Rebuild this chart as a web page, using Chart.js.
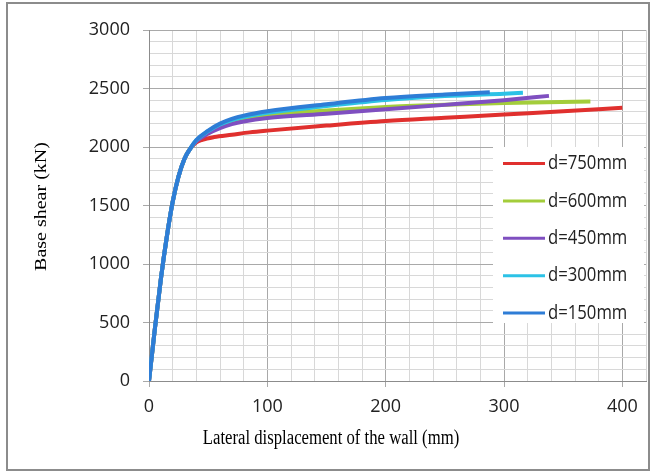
<!DOCTYPE html>
<html>
<head>
<meta charset="utf-8">
<script src="https://cdn.jsdelivr.net/npm/chart.js@4"></script>
<style>
  html, body { margin: 0; padding: 0; background: #fff; }
  canvas { display: block; }
</style>
</head>
<body>
<canvas id="pushover" width="651" height="473"></canvas>
<script>
// pushover curves: base shear vs lateral wall displacement
const seriesNames = ['d=750mm', 'd=600mm', 'd=450mm', 'd=300mm', 'd=150mm'];
const seriesColors = ['#e0302e', '#a3cd3b', '#7f4fc0', '#2cc2e6', '#2e7dd6'];

// elastic branch shared by all walls
const dispElastic = [0, 5, 10, 15, 20, 25, 30, 35];
const shearElastic = [0, 450, 870, 1230, 1530, 1750, 1900, 1988];

const disp750 = [40, 45, 55, 70, 85, 100, 150, 200, 250, 300, 350, 400];
const shear750 = [2040, 2062, 2085, 2105, 2125, 2140, 2183, 2222, 2250, 2278, 2305, 2335];

const disp600 = [40, 50, 60, 70, 80, 100, 150, 200, 250, 300, 373];
const shear600 = [2052, 2125, 2175, 2215, 2240, 2275, 2312, 2342, 2361, 2376, 2388];

const disp450 = [40, 50, 60, 70, 80, 100, 150, 200, 250, 300, 338];
const shear450 = [2048, 2115, 2162, 2195, 2218, 2248, 2285, 2322, 2360, 2400, 2437];

const disp300 = [40, 50, 60, 70, 80, 100, 150, 200, 250, 300, 316];
const shear300 = [2058, 2135, 2192, 2230, 2256, 2292, 2350, 2402, 2435, 2456, 2463];

const disp150 = [40, 50, 60, 70, 80, 100, 150, 200, 250, 288];
const shear150 = [2060, 2140, 2200, 2240, 2268, 2305, 2365, 2418, 2448, 2467];

const yTicks = [0, 500, 1000, 1500, 2000, 2500, 3000];
const xTicks = [0, 100, 200, 300, 400];

function toPoints(xs, ys) {
  const xAll = dispElastic.concat(xs);
  const yAll = shearElastic.concat(ys);
  return xAll.map((x, i) => ({x: x, y: yAll[i]}));
}

const curves = [
  toPoints(disp750, shear750),
  toPoints(disp600, shear600),
  toPoints(disp450, shear450),
  toPoints(disp300, shear300),
  toPoints(disp150, shear150)
];

const majorGrid = '#a9a9a9';
const minorGrid = '#d8d8d8';
const squeeze = 0.835; // text in this figure is set a little narrow

// frame, axis titles and the boxed legend
const decorPlugin = {
  id: 'decor',
  beforeDraw(chart) {
    const c = chart.ctx;
    c.save();
    c.fillStyle = '#fff';
    c.fillRect(0, 0, chart.width, chart.height);
    c.restore();
  },
  afterDraw(chart) {
    const c = chart.ctx;
    const area = chart.chartArea;
    c.save();
    c.strokeStyle = '#8c8c8c';
    c.lineWidth = 2;
    c.strokeRect(7, 3, 642, 467);

    c.fillStyle = '#000';
    c.font = '20px "Liberation Serif", "Times New Roman", serif';
    c.textAlign = 'center';
    c.textBaseline = 'middle';
    c.save();
    c.translate(331, 439);
    c.scale(squeeze, 1);
    c.fillText('Lateral displacement of the wall (mm)', 0, 0);
    c.restore();

    c.translate(42, (area.top + area.bottom) / 2 + 1);
    c.rotate(-Math.PI / 2);
    c.scale(1, squeeze);
    c.fillText('Base shear (kN)', 0, 0);
    c.restore();

    // legend
    c.save();
    c.fillStyle = '#fff';
    c.fillRect(493, 147, 151, 176);
    c.font = '20px "Open Sans", sans-serif';
    c.textAlign = 'left';
    c.textBaseline = 'middle';
    chart.data.datasets.forEach((ds, i) => {
      const y = 163.5 + i * 37.4;
      c.strokeStyle = ds.borderColor;
      c.lineWidth = 3;
      c.beginPath();
      c.moveTo(503, y);
      c.lineTo(545, y);
      c.stroke();
      c.save();
      c.translate(548, y);
      c.scale(squeeze, 1);
      c.fillStyle = '#222';
      c.fillText(ds.label, 0, 0);
      c.restore();
    });
    c.restore();
  }
};

const ctx = document.getElementById('pushover').getContext('2d');
const chart = new Chart(ctx, {
  type: 'line',
  data: {
    datasets: curves.map((pts, i) => ({
      label: seriesNames[i],
      data: pts,
      borderColor: seriesColors[i],
      backgroundColor: seriesColors[i],
      borderWidth: 4,
      pointRadius: 0,
      fill: false,
      cubicInterpolationMode: 'monotone',
      // later walls are painted over the earlier ones
      order: seriesNames.length - i
    }))
  },
  options: {
    responsive: false,
    animation: false,
    layout: { padding: { left: 0, top: 30, right: 5, bottom: 0 } },
    plugins: {
      legend: { display: false },
      tooltip: { enabled: false }
    },
    scales: {
      x: {
        type: 'linear',
        min: 0,
        max: 420,
        afterFit(scale) {
          scale.height = 92;
          scale.paddingLeft = 0;
          scale.paddingRight = 0;
        },
        afterBuildTicks(scale) {
          const t = [];
          for (let v = 0; v <= 420; v += 20) t.push({value: v});
          scale.ticks = t;
        },
        ticks: {
          autoSkip: false,
          maxRotation: 0,
          padding: 9,
          color: '#222',
          font: { family: '"Open Sans", sans-serif', size: 18 },
          callback: (v) => xTicks.includes(v) ? String(v) : ''
        },
        grid: {
          color: (c) => (c.tick && c.tick.value % 100 === 0) ? majorGrid : minorGrid,
          tickColor: (c) => (c.tick && c.tick.value % 100 === 0) ? majorGrid : 'rgba(0,0,0,0)',
          tickLength: 6,
          lineWidth: 1
        },
        border: { display: true, color: '#8c8c8c', width: 1 }
      },
      y: {
        type: 'linear',
        min: 0,
        max: 3000,
        afterFit(scale) { scale.width = 149; },
        afterBuildTicks(scale) {
          const t = [];
          for (let v = 0; v <= 3000; v += 100) t.push({value: v});
          scale.ticks = t;
        },
        ticks: {
          autoSkip: false,
          padding: 13,
          color: '#222',
          font: { family: '"Open Sans", sans-serif', size: 18 },
          callback: (v) => yTicks.includes(v) ? String(v) : ''
        },
        grid: {
          color: (c) => (c.tick && c.tick.value % 500 === 0) ? majorGrid : minorGrid,
          tickColor: (c) => (c.tick && c.tick.value % 500 === 0) ? majorGrid : 'rgba(0,0,0,0)',
          tickLength: 6,
          lineWidth: 1
        },
        border: { display: true, color: '#8c8c8c', width: 1 }
      }
    }
  },
  plugins: [decorPlugin]
});
</script>
</body>
</html>
